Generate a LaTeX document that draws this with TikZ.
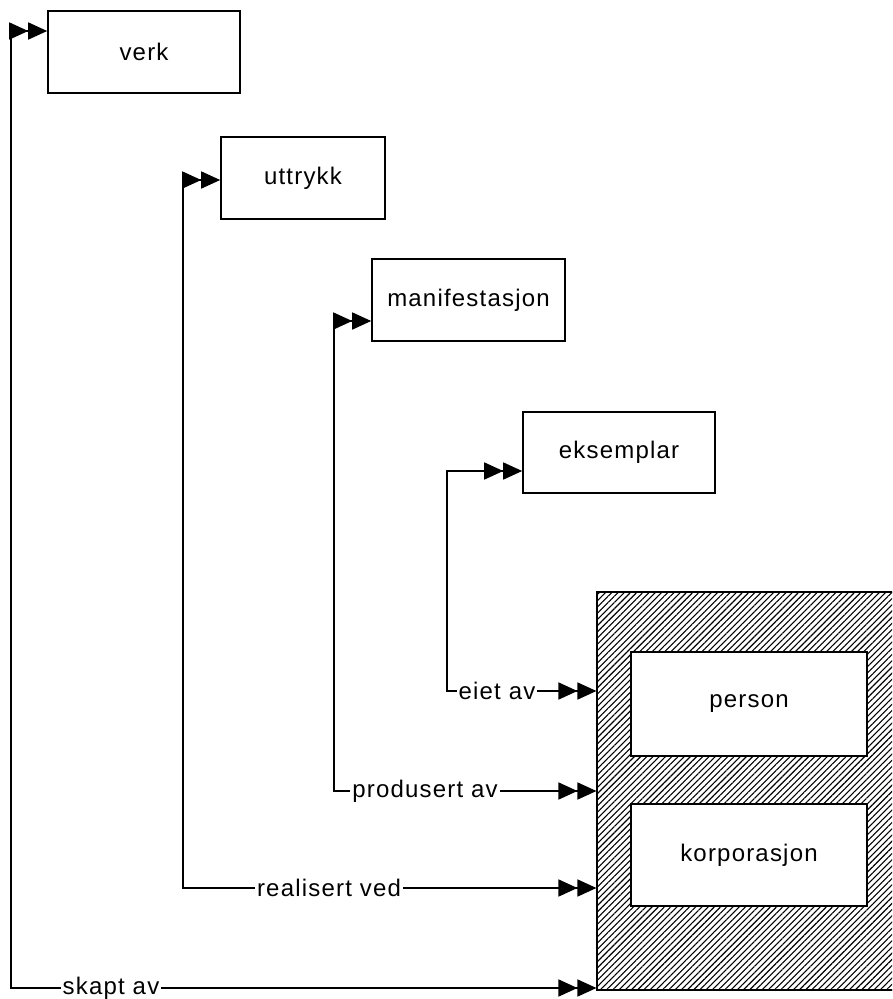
\documentclass[tikz,border=0pt]{standalone}
\usepackage{fontspec}
\setmainfont{Liberation Sans}[LetterSpace=5]
\usetikzlibrary{arrows.meta,patterns.meta}

\begin{document}
\begin{tikzpicture}[x=1pt,y=-1pt, font=\fontsize{24}{28}\selectfont,
  entity/.style={draw, line width=1.6pt, fill=white, inner sep=0pt},
  agentbox/.style={draw, line width=1.6pt, inner sep=0pt,
    pattern={Lines[angle=45,distance=4.4pt,line width=1.1pt]}},
  link/.style={draw, line width=1.6pt,
    {Triangle[length=19pt,width=17pt]Triangle[length=19pt,width=17pt]}-{Triangle[length=19pt,width=17pt]Triangle[length=19pt,width=17pt]}},
  rel/.style={fill=white, inner xsep=2pt, inner ysep=1pt}]
  \useasboundingbox (0,0) rectangle (892,999);
  \begin{scope}
  \clip (0,0) rectangle (892,999);
  % agents
  \node[agentbox, minimum width=310pt, minimum height=398pt] (agent) at (752,791) {};
  \node[entity, minimum width=236pt, minimum height=104pt] (person) at (749,704) {person};
  \node[entity, minimum width=236pt, minimum height=102pt] (korp) at (749,855) {korporasjon};
  \end{scope}
  % works
  \node[entity, minimum width=192pt, minimum height=82pt] (verk) at (144,52) {verk};
  \node[entity, minimum width=164pt, minimum height=82pt] (uttrykk) at (303,178) {uttrykk};
  \node[entity, minimum width=193pt, minimum height=82pt] (manif) at (468.5,300) {manifestasjon};
  \node[entity, minimum width=192pt, minimum height=81pt] (eks) at (619,452.5) {eksemplar};
  % corners
  \coordinate (c1) at (11,988);
  \coordinate (c2) at (183,888);
  \coordinate (c3) at (334,791);
  \coordinate (c4) at (447,691);
  % relations
  \draw[link] (verk.west |- 0,31) -| (c1) -- (agent.west |- c1);
  \draw[link] (uttrykk.west |- 0,180) -| (c2) -- (agent.west |- c2);
  \draw[link] (manif.west |- 0,321) -| (c3) -- (agent.west |- c3);
  \draw[link] (eks.west |- 0,471) -| (c4) -- (agent.west |- c4);
  \node[rel] (skapt) at (111,988) {skapt av};
  \node[rel] (realisert) at (329,888) {realisert ved};
  \node[rel] (produsert) at (425,791) {produsert av};
  \node[rel] (eiet) at (497,691) {eiet av};
\end{tikzpicture}
\end{document}
